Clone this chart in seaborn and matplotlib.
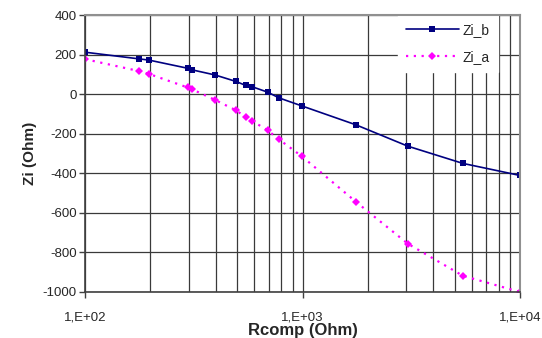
import numpy as np
import pandas as pd
import matplotlib
matplotlib.use("Agg")
import matplotlib.pyplot as plt
import seaborn as sns
from matplotlib.ticker import LogLocator, FixedLocator, FuncFormatter, NullFormatter

rcomp = [100, 178, 197, 296, 310, 396, 495, 548, 588, 692, 780, 990, 1760, 3050, 5460, 10000]
zi_b = [212, 178, 172, 131, 123, 97, 64, 44, 37, 10, -19, -59, -155, -263, -350, -411]
zi_a = [177, 116, 102, 34, 25, -29, -82, -116, -136, -183, -229, -313, -544, -756, -918, -1000]
y_ticks = [400, 200, 0, -200, -400, -600, -800, -1000]
x_labels = {100: "1,E+02", 1000: "1,E+03", 10000: "1,E+04"}

sns.set_style("white")
plt.rcParams['font.family'] = ['Liberation Sans', 'DejaVu Sans']
plt.rcParams['axes.unicode_minus'] = False

fig = plt.figure(figsize=(5.42, 3.38), dpi=100)
ax = fig.add_axes([85/542, 1-292/338, 435/542, 277/338])

df_b = pd.DataFrame({"Rcomp": rcomp, "Zi": zi_b})
df_a = pd.DataFrame({"Rcomp": rcomp, "Zi": zi_a})

ax.set_xscale("log")
ax.set_xlim(100, 10000)
ax.set_ylim(-1000, 400)

# grid
ax.yaxis.set_major_locator(FixedLocator(y_ticks))
ax.xaxis.set_major_locator(FixedLocator([100, 1000, 10000]))
ax.xaxis.set_minor_locator(LogLocator(base=10, subs=np.arange(2, 10)))
ax.xaxis.set_minor_formatter(NullFormatter())
ax.xaxis.set_major_formatter(FuncFormatter(lambda v, p: x_labels.get(int(round(v)), "")))
ax.grid(True, which="major", axis="both", color="#3a3a3a", lw=0.9)
ax.grid(True, which="minor", axis="x", color="#3a3a3a", lw=0.9)
ax.set_axisbelow(True)

sns.lineplot(data=df_b, x="Rcomp", y="Zi", ax=ax, color="#000080", marker="s",
             markersize=5, markeredgewidth=0, lw=1.2, label="Zi_b", zorder=3)
sns.lineplot(data=df_a, x="Rcomp", y="Zi", ax=ax, color="#FF00FF", marker="D",
             markersize=4.5, markeredgewidth=0, lw=1.6, linestyle=(0, (1, 2.5)),
             label="Zi_a", zorder=3)

for s in ["left", "bottom"]:
    ax.spines[s].set_color("#404040")
    ax.spines[s].set_linewidth(1.2)
for s in ["top", "right"]:
    ax.spines[s].set_color("#909090")
    ax.spines[s].set_linewidth(1.5)
for sp in ax.spines.values():
    sp.set_zorder(6)

ax.tick_params(axis="both", which="major", direction="out", length=4, width=1,
               color="#404040", labelsize=9.5, pad=2, left=True, bottom=True)
ax.tick_params(axis="x", which="major", pad=10)
ax.tick_params(axis="x", which="minor", length=0)

ax.set_xlabel("Rcomp (Ohm)", fontsize=12, fontweight="bold", labelpad=0)
ax.set_ylabel("Zi (Ohm)", fontsize=11, fontweight="bold", labelpad=4)

leg = ax.legend(loc="upper right", bbox_to_anchor=(0.95, 1.0), frameon=True,
                fontsize=10, handlelength=3.8, borderaxespad=0, handletextpad=0.3,
                labelspacing=0.9, borderpad=0.6, fancybox=False)
leg.get_frame().set_edgecolor("white")
leg.get_frame().set_facecolor("white")
leg.get_frame().set_alpha(1)
leg.set_zorder(5)

fig.savefig("out.png", dpi=100)
